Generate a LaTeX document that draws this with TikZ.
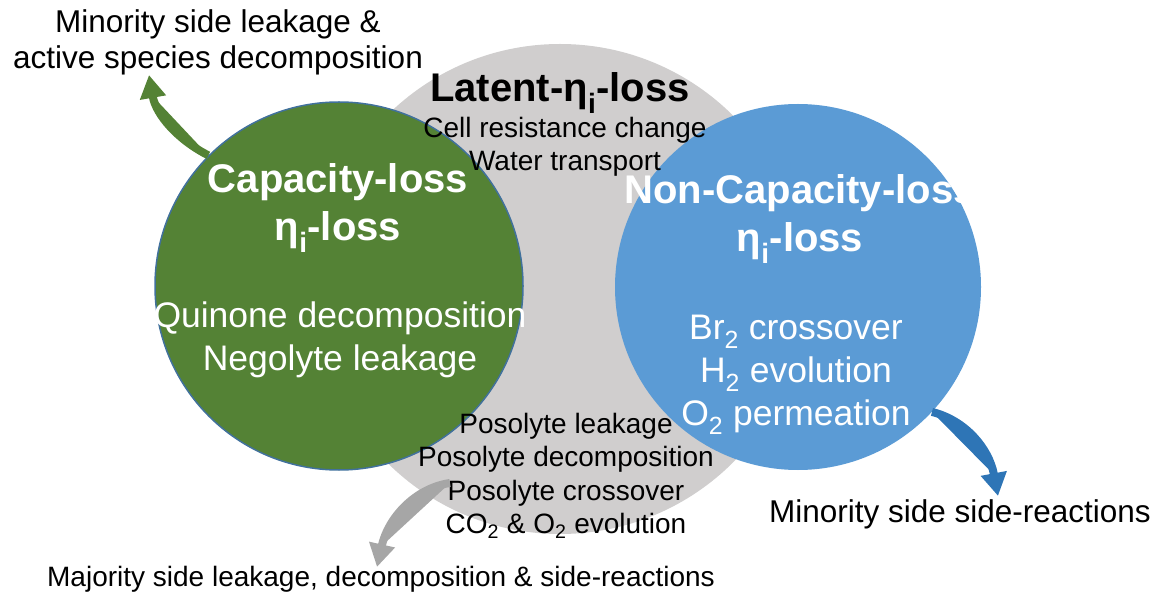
\documentclass[tikz,border=0pt]{standalone}
\usepackage{fontspec}
\setmainfont{Liberation Sans}
\usetikzlibrary{arrows.meta}
\definecolor{cgreen}{HTML}{548235}
\definecolor{cblue}{HTML}{5B9BD5}
\definecolor{cgrey}{HTML}{D0CECE}
\definecolor{cedge}{HTML}{41719C}
\definecolor{cbluearrow}{HTML}{2E75B6}
\definecolor{cgreyarrow}{HTML}{A6A6A6}
\newcommand\fsz[2]{\fontsize{#1}{#2}\selectfont}
\tikzset{
  venn/.style={circle, inner sep=0pt},
  txt/.style={align=center, inner sep=0pt},
  outerlabel/.style={txt, font=\fsz{31.5}{36}, text=black},
  greytext/.style={txt, font=\fsz{28}{33.3}, text=black},
  heading/.style={txt, font=\fsz{40}{48}\bfseries, text=white},
  bodytext/.style={txt, font=\fsz{35.5}{43}, text=white},
  fatarrow/.style={line width=8pt, -{Triangle[length=23pt,width=25pt]}},
}
\begin{document}
\begin{tikzpicture}[x=1pt,y=-1pt]
\useasboundingbox (0,0) rectangle (1159,593);
% circles
\node[venn, fill=cgrey, minimum size=490pt] (latent) at (560,289) {};
\node[venn, fill=cgreen, draw=cedge, line width=1.5pt, minimum size=368pt] (cap) at (339,286) {};
\node[venn, fill=cblue, minimum size=366pt] (noncap) at (798,287) {};
% texts
\node[heading, text=black] (latenttitle) at (560,93) {Latent-η\textsubscript{i}-loss};
\node[greytext] (latentitems) at (565,147) {Cell resistance change\\Water transport};
\node[heading] (captitle) at (338,208) {Capacity-loss\\η\textsubscript{i}-loss};
\node[bodytext] (capitems) at (340,340) {Quinone decomposition\\Negolyte leakage};
\node[heading] (noncaptitle) at (800,219) {Non-Capacity-loss\\η\textsubscript{i}-loss};
\node[bodytext] (noncapitems) at (796,375) {Br\textsubscript{2} crossover\\H\textsubscript{2} evolution\\O\textsubscript{2} permeation};
\node[greytext] (posolyte) at (566,476) {Posolyte leakage\\Posolyte decomposition\\Posolyte crossover\\CO\textsubscript{2} \& O\textsubscript{2} evolution};
% outer labels
\node[outerlabel] (minleak) at (218,42) {Minority side leakage \&\\active species decomposition};
\node[outerlabel] (minside) at (960,514) {Minority side side-reactions};
\node[greytext] (major) at (381,579) {Majority side leakage, decomposition \& side-reactions};
% arrows
\coordinate (greystart) at (450,483);
\draw[fatarrow, draw=cgreen, fill=cgreen] (cap.135) .. controls (178,140) and (156,115) .. (149,75);
\draw[fatarrow, draw=cbluearrow, fill=cbluearrow] (noncap.-43) .. controls (965,420) and (989,448) .. (998,496);
\draw[fatarrow, draw=cgreyarrow, fill=cgreyarrow] (greystart) .. controls (415,488) and (388,518) .. (377,567);
\end{tikzpicture}
\end{document}
